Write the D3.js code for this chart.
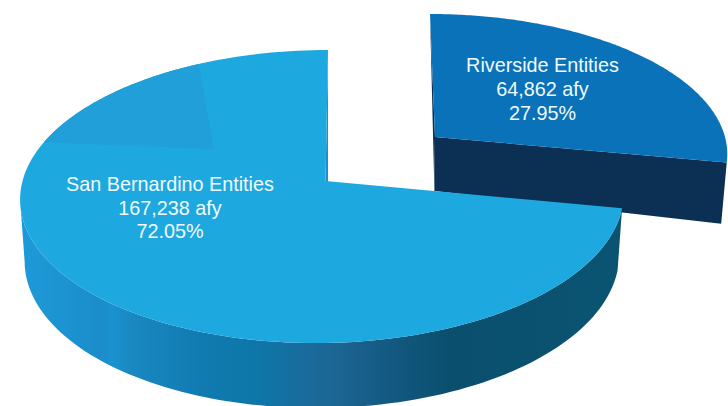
<!DOCTYPE html>
<html>
<head>
<meta charset="utf-8">
<style>
  html, body { margin: 0; padding: 0; background: #fff; }
  svg { display: block; }
  text { font-family: "Liberation Sans", Arial, sans-serif; font-size: 19.8px; fill: #f1fafd; text-anchor: middle; }
</style>
<script src="https://cdn.jsdelivr.net/npm/d3@7/dist/d3.min.js"></script>
</head>
<body>
<svg id="chart" width="728" height="406"></svg>
<script>
// Water allocation by county group
const entities = ["Riverside Entities", "San Bernardino Entities"];
const acreFeet = [64862, 167238];
const amountLabels = ["64,862 afy", "167,238 afy"];
const shareLabels = ["27.95%", "72.05%"];
const topColors = ["#0a72b9", "#1ea8e0"];
const lineBaselines = [[72, 96, 120], [191, 214.5, 238]];
const labelCenters = [542.5, 170];

const svg = d3.select("#chart");
const defs = svg.append("defs");

// Pie angles: first slice runs clockwise from 12 o'clock
const arcs = d3.pie().sort(null).value(d => d)(acreFeet);

// Tilted disc: a perspective view of the unit circle, v pointing away from the viewer
const tilt = 0.1058;
function disc(p) {
  return (u, v) => {
    const w = 1 + tilt * v;
    return [p.x + (p.rx * u + p.shear * v) / w, p.y - p.ry * v / w];
  };
}
const onRim = (proj, a) => proj(Math.sin(a), Math.cos(a));

const river = { x: 435, y: 137, rx: 290, ry: 136, shear: -5.5 };
const sanb  = { x: 322.5, y: 181, rx: 300, ry: 144.9, shear: 6.1 };
const riverProj = disc(river), sanbProj = disc(sanb);
const sanbApex = sanbProj(3 / sanb.rx, 0);

const rimPoints = (proj, a0, a1, n = 160) =>
  d3.range(n + 1).map(i => onRim(proj, d3.interpolateNumber(a0, a1)(i / n)));
const path = pts => d3.line()(pts) + "Z";

// Lower edge of a thick slab: pulled in slightly and pushed further down toward the viewer
const sanbBase = ([x, y]) => [sanb.x + (x - sanb.x) * 0.985, y + 62 + (y - 208) / 135 * 3];
const riverBase = ([x, y]) => [river.x + (x - river.x) * 0.983 - 0.6, y + 54 + (y - 137) / 25 * 7];

// Side wall shading, left to right
const wallScale = d3.scaleLinear().domain([20, 622]).range([0, 1]);
const wallGrad = defs.append("linearGradient")
  .attr("id", "wall").attr("gradientUnits", "userSpaceOnUse")
  .attr("x1", 20).attr("x2", 622).attr("y1", 0).attr("y2", 0);
[[20, "#1e9ad8"], [80, "#1c90ce"], [100, "#1a8cc9"], [112, "#1a93d0"], [130, "#1a88c2"],
 [200, "#107bb0"], [260, "#0e76a8"], [310, "#1a6a9b"], [340, "#1c6592"], [400, "#11577e"],
 [450, "#0a4f6e"], [622, "#0a5472"]]
  .forEach(([x, c]) => wallGrad.append("stop").attr("offset", wallScale(x)).attr("stop-color", c));

const [riverArc, sanbArc] = arcs;

// Riverside slice, pulled away from the pie
const riverCorner = onRim(riverProj, riverArc.endAngle);
const riverApex = riverProj(0, 0);
const riverTop = onRim(riverProj, riverArc.startAngle);
svg.append("path")
  .attr("d", path([riverApex, riverCorner, riverBase(riverCorner), riverBase(riverApex)]))
  .attr("fill", "#0b3054");
svg.append("path")
  .attr("d", path([riverTop, riverApex, riverBase(riverApex)]))
  .attr("fill", "#0b3054");
svg.append("path")
  .attr("d", path([riverApex, ...rimPoints(riverProj, riverArc.startAngle, riverArc.endAngle)]))
  .attr("fill", topColors[0]);

// San Bernardino slice: outer wall up to the leftmost rim point, inner cut sliver, then the top face
const sanbRim = rimPoints(sanbProj, riverArc.endAngle, riverArc.endAngle + (sanbArc.endAngle - sanbArc.startAngle));
const leftmost = d3.leastIndex(sanbRim, d => d[0]);
const wallRim = sanbRim.slice(0, leftmost + 1);
svg.append("path")
  .attr("d", path([...wallRim, ...wallRim.map(sanbBase).reverse()]))
  .attr("fill", "url(#wall)");
const sanbTop = onRim(sanbProj, 0);
svg.append("path")
  .attr("d", path([sanbTop, sanbApex, [sanbApex[0] + 2.5, sanbApex[1] + 62]]))
  .attr("fill", "#1f8dcb");
svg.append("path")
  .attr("d", path([sanbApex, ...sanbRim]))
  .attr("fill", topColors[1]);

// Faint darker facet on the far-left part of the top face
const toRad = d3.scaleLinear().domain([0, 360]).range([0, 2 * Math.PI]);
const facetFrom = toRad(-28), facetTo = toRad(-74);
const facetCore = sanbProj(-0.376, 0.226);
svg.append("path")
  .attr("d", path([facetCore, ...rimPoints(sanbProj, facetFrom, facetTo, 60)]))
  .attr("fill", "#209fd8");

// Labels
entities.forEach((name, i) => {
  [name, amountLabels[i], shareLabels[i]].forEach((line, j) => {
    svg.append("text")
      .attr("x", labelCenters[i])
      .attr("y", lineBaselines[i][j])
      .text(line);
  });
});
</script>
</body>
</html>
